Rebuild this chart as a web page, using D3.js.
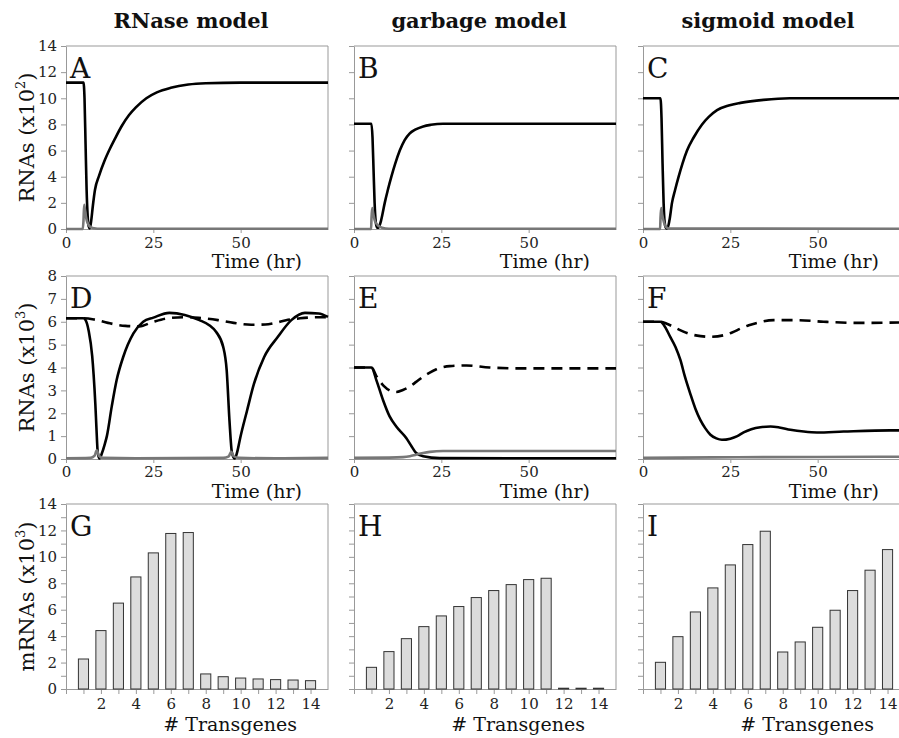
<!DOCTYPE html>
<html>
<head>
<meta charset="utf-8">
<script src="https://cdn.jsdelivr.net/npm/d3@7"></script>
<style>
  body { margin: 0; background: #fff; }
  svg { display: block; }
</style>
</head>
<body>
<script>
// column titles + panel letters
var titles = ['RNase model', 'garbage model', 'sigmoid model'];
var letters = [['A', 'B', 'C'], ['D', 'E', 'F'], ['G', 'H', 'I']];

// time courses, [hr, value]
var panelA_black = [[0,11.2],[5,11.2],[5.3,10],[5.6,6.5],[5.9,3],[6.2,1],[6.5,0.2],[6.8,0.05],[7.2,0.6],[7.7,1.8],[8.3,3.0],[9.5,4.1],[11,5.2],[12.5,6.1],[14,6.9],[16,7.9],[18,8.7],[20,9.3],[23,10.0],[26,10.45],[30,10.8],[35,11.05],[40,11.15],[50,11.2],[75,11.2]];
var panelA_gray = [[0,0],[4.8,0],[5.0,0.6],[5.2,1.86],[5.5,1.3],[5.9,0.7],[6.4,0.35],[7,0.15],[8,0.05],[9,0.02],[75,0.02]];
var panelB_black = [[0,8.05],[5,8.05],[5.3,7],[5.6,4.5],[5.9,2],[6.2,0.6],[6.6,0.1],[7,0.1],[7.6,0.5],[8.2,1.2],[8.8,2],[9.7,3],[10.7,4],[11.8,5],[13.1,6],[14.5,6.8],[15.9,7.3],[17.5,7.6],[19.8,7.85],[22,7.97],[25.5,8.05],[75,8.05]];
var panelB_gray = [[0,0],[4.9,0],[5.0,0.8],[5.2,1.6],[5.5,1.2],[6,0.6],[7,0.25],[8,0.1],[10,0.02],[75,0.02]];
var panelC_black = [[0,10],[5,10],[5.3,8.5],[5.6,5],[5.9,2],[6.2,0.5],[6.6,0.05],[7,0.05],[7.6,0.7],[8.3,2],[9.2,3],[10.2,4],[11.3,5],[12.6,6],[14.5,7],[16.9,8],[18.9,8.6],[21.2,9.1],[24.5,9.45],[27.9,9.65],[34.5,9.88],[42,10],[75,10]];
var panelC_gray = [[0,0],[4.9,0],[5.0,0.8],[5.2,1.6],[5.5,1.1],[6,0.5],[6.6,0.15],[7.5,0.03],[75,0.02]];

var panelD_black = [[0,6.15],[5,6.15],[5.5,6.1],[6.5,5.6],[7.5,4.5],[7.9,3.7],[8.4,2.4],[8.7,1.4],[9.1,0.26],[9.6,0.02],[10.3,0.26],[11,0.6],[11.7,1.0],[13.1,2.3],[14.5,3.45],[16.4,4.47],[19.3,5.49],[22.1,6.0],[25,6.18],[29.6,6.39],[34,6.3],[38.2,6.07],[41,5.85],[43,5.55],[45,4.9],[46,3.87],[46.8,1.67],[47.5,0.28],[48.3,0.02],[49,0.3],[49.9,0.94],[51.8,2.1],[53.8,3.28],[56.7,4.45],[60.6,5.33],[64.5,6.07],[68.4,6.39],[72.3,6.36],[75,6.21]];
var panelD_dash = [[0,6.15],[5,6.15],[8,6.1],[12,5.95],[17,5.82],[21,5.8],[25,6.0],[29,6.15],[34,6.2],[38,6.17],[43.5,6.07],[48,5.95],[53,5.87],[57,5.88],[60,5.95],[63,6.07],[67,6.15],[72.5,6.2],[75,6.2]];
var panelD_gray = [[0,0.03],[7,0.05],[8.2,0.15],[8.8,0.38],[9.4,0.15],[10.5,0.05],[20,0.03],[45,0.05],[46.6,0.12],[47.3,0.32],[48,0.12],[49.5,0.05],[60,0.03],[75,0.05]];
var panelE_black = [[0,4],[5,4],[6.4,3.45],[8.3,2.58],[10.2,1.86],[12.1,1.42],[15,0.91],[16.5,0.55],[17.8,0.26],[19.8,0.12],[24.5,0.04],[75,0.03]];
var panelE_dash = [[0,4],[5,4],[6.5,3.6],[8.5,3.2],[10.5,2.98],[12.1,2.93],[14,3.02],[15.9,3.16],[17.8,3.37],[19.8,3.6],[21.7,3.78],[23.6,3.92],[27.4,4.06],[32.2,4.09],[38.8,4.0],[48.4,3.96],[75,3.96]];
var panelE_gray = [[0,0.05],[10,0.06],[14,0.08],[16,0.12],[17.8,0.19],[19.8,0.26],[21.7,0.31],[25.5,0.35],[75,0.35]];
var panelF_black = [[0,6],[5,6],[6,5.85],[7.8,5.34],[9.3,4.9],[10.7,4.33],[12,3.6],[13.5,2.87],[15,2.2],[16.4,1.71],[17.8,1.35],[19.3,1.06],[21,0.9],[22.6,0.84],[25,0.89],[27,1.0],[28.8,1.16],[31,1.3],[33.6,1.39],[36.5,1.42],[39,1.38],[42.2,1.28],[46,1.2],[49.8,1.16],[57.4,1.2],[70.8,1.25],[75,1.25]];
var panelF_dash = [[0,6],[5,6],[7,5.9],[9.7,5.7],[13.5,5.46],[16.5,5.37],[19.3,5.34],[23.1,5.41],[25.5,5.53],[27.9,5.7],[30.3,5.85],[32.6,5.95],[37.4,6.07],[44,6.07],[51.7,6.0],[61.3,5.95],[75,5.97]];
var panelF_gray = [[0,0.05],[20,0.07],[50,0.09],[75,0.1]];

// bar panels
var transgenes = [1,2,3,4,5,6,7,8,9,10,11,12,13,14];
var rnaseBars = [2.27,4.42,6.5,8.48,10.3,11.77,11.84,1.14,0.93,0.83,0.76,0.71,0.68,0.63];
var garbageBars = [1.64,2.83,3.81,4.72,5.53,6.24,6.92,7.45,7.9,8.28,8.38,0.06,0.06,0.06];
var sigmoidBars = [2.02,3.96,5.83,7.65,9.39,10.93,11.94,2.8,3.56,4.67,5.96,7.45,8.99,10.55];

var W = 899, H = 738;
var colX = [66, 354, 643];
var panelW = 262;
var rowTop = [46, 276, 504];
var rowBottom = [229, 459, 689];
var tickPad = [4, 3, 4];
var timeLabelOffset = [39, 39];
var frameColor = '#999';
var serif = 'DejaVu Serif, serif';

var svg = d3.select("body").append("svg")
	.attr("width", W)
	.attr("height", H);

svg.append("rect").attr("width", W).attr("height", H).attr("fill", "#fff");

function styleAxis(g) {
	g.attr("font-family", serif).attr("font-size", 15);
	g.selectAll("path.domain").attr("stroke", frameColor).attr("stroke-width", 1);
	g.selectAll(".tick line").attr("stroke", frameColor).attr("stroke-width", 1);
	g.selectAll("text")
		.style("font-family", serif)
		.style("font-size", "15px")
		.attr("fill", "#222");
}

function drawFrame(g, x, y) {
	// top + right border, gray
	g.append("line")
		.attr("x1", x.range()[0]).attr("x2", x.range()[1])
		.attr("y1", y.range()[1]).attr("y2", y.range()[1])
		.attr("stroke", frameColor);
	g.append("line")
		.attr("x1", x.range()[1]).attr("x2", x.range()[1])
		.attr("y1", y.range()[0]).attr("y2", y.range()[1])
		.attr("stroke", frameColor);
}

function addText(x, y, size, txt) {
	return svg.append("text")
		.attr("x", x)
		.attr("y", y)
		.style("font-family", serif)
		.style("font-size", size + "px")
		.attr("fill", "#111")
		.text(txt);
}

function yLabel(row, main, power) {
	var cy = (rowTop[row] + rowBottom[row]) / 2;
	var t = svg.append("text")
		.attr("transform", "translate(34," + cy + ") rotate(-90)")
		.attr("text-anchor", "middle")
		.style("font-family", serif)
		.style("font-size", "21px")
		.attr("fill", "#111");
	t.append("tspan").text(main + " (x10");
	t.append("tspan").style("font-size", "13px").attr("dy", -9).text(power);
	t.append("tspan").attr("dy", 9).text(")");
}

function panelLetter(row, col) {
	addText(colX[col] + 4, rowTop[row] + 32, 28, letters[row][col]);
}

function timePanel(row, col, yMax, series) {
	var g = svg.append("g");
	var x = d3.scaleLinear().domain([0, 75]).range([colX[col], colX[col] + panelW]);
	var y = d3.scaleLinear().domain([0, yMax]).range([rowBottom[row], rowTop[row]]);
	var step = yMax > 10 ? 2 : 1;

	var yAxis = d3.axisLeft(y)
		.tickValues(d3.range(0, yMax + 0.1, step))
		.tickSize(5).tickSizeOuter(0).tickPadding(4)
		.tickFormat(col == 0 ? d3.format("d") : "");
	g.append("g").attr("transform", "translate(" + colX[col] + ",0)").call(yAxis).call(styleAxis);

	var xAxis = d3.axisBottom(x)
		.tickValues([0, 25, 50])
		.tickSize(4).tickSizeOuter(0).tickPadding(tickPad[row]);
	g.append("g").attr("transform", "translate(0," + rowBottom[row] + ")").call(xAxis).call(styleAxis);

	drawFrame(g, x, y);

	addText(colX[col] + panelW - 26, rowBottom[row] + timeLabelOffset[row], 19, "Time (hr)")
		.attr("text-anchor", "end");

	var line = d3.line()
		.x(function(d) { return x(d[0]); })
		.y(function(d) { return y(d[1]); })
		.curve(d3.curveMonotoneX);

	series.forEach(function(s) {
		g.append("path")
			.datum(s.data)
			.attr("d", line)
			.attr("fill", "none")
			.attr("stroke", s.color)
			.attr("stroke-width", 2.6)
			.attr("stroke-dasharray", s.dash ? "11,7" : null)
			.attr("stroke-linejoin", "round");
	});

	panelLetter(row, col);
}

function barPanel(col, values) {
	var row = 2;
	var g = svg.append("g");
	var x = d3.scaleLinear().domain([0, 15]).range([colX[col], colX[col] + panelW]);
	var y = d3.scaleLinear().domain([0, 14]).range([rowBottom[row], rowTop[row]]);

	var yAxis = d3.axisLeft(y)
		.tickValues(d3.range(0, 15))
		.tickSize(5).tickSizeOuter(0).tickPadding(4)
		.tickFormat(function(d) { return (col == 0 && d % 2 == 0) ? d : ""; });
	g.append("g").attr("transform", "translate(" + colX[col] + ",0)").call(yAxis).call(styleAxis);

	var xAxis = d3.axisBottom(x)
		.tickValues(d3.range(0, 15))
		.tickSize(5).tickSizeOuter(0).tickPadding(tickPad[row])
		.tickFormat(function(d) { return (d > 0 && d % 2 == 0) ? d : ""; });
	g.append("g").attr("transform", "translate(0," + rowBottom[row] + ")").call(xAxis).call(styleAxis);

	drawFrame(g, x, y);

	var bw = x(0.58) - x(0);
	g.selectAll("rect.bar")
		.data(values)
		.enter().append("rect")
		.attr("class", "bar")
		.attr("x", function(d, i) { return x(transgenes[i]) - bw / 2; })
		.attr("y", function(d) { return y(d); })
		.attr("width", bw)
		.attr("height", function(d) { return y(0) - y(d); })
		.attr("fill", "#dcdcdc")
		.attr("stroke", "#333")
		.attr("stroke-width", 1);

	addText(colX[col] + panelW - 31, rowBottom[row] + 42, 19, "# Transgenes")
		.attr("text-anchor", "end");

	panelLetter(row, col);
}

// titles
titles.forEach(function(t, i) {
	addText(colX[i] + panelW / 2 - 6, 28, 21, t)
		.attr("text-anchor", "middle")
		.attr("font-weight", "bold");
});

timePanel(0, 0, 14, [{data: panelA_black, color: "#000"}, {data: panelA_gray, color: "#777"}]);
timePanel(0, 1, 14, [{data: panelB_black, color: "#000"}, {data: panelB_gray, color: "#777"}]);
timePanel(0, 2, 14, [{data: panelC_black, color: "#000"}, {data: panelC_gray, color: "#777"}]);

timePanel(1, 0, 8, [{data: panelD_dash, color: "#000", dash: true}, {data: panelD_black, color: "#000"}, {data: panelD_gray, color: "#777"}]);
timePanel(1, 1, 8, [{data: panelE_dash, color: "#000", dash: true}, {data: panelE_black, color: "#000"}, {data: panelE_gray, color: "#777"}]);
timePanel(1, 2, 8, [{data: panelF_dash, color: "#000", dash: true}, {data: panelF_black, color: "#000"}, {data: panelF_gray, color: "#777"}]);

barPanel(0, rnaseBars);
barPanel(1, garbageBars);
barPanel(2, sigmoidBars);

yLabel(0, "RNAs", "2");
yLabel(1, "RNAs", "3");
yLabel(2, "mRNAs", "3");
</script>
</body>
</html>
